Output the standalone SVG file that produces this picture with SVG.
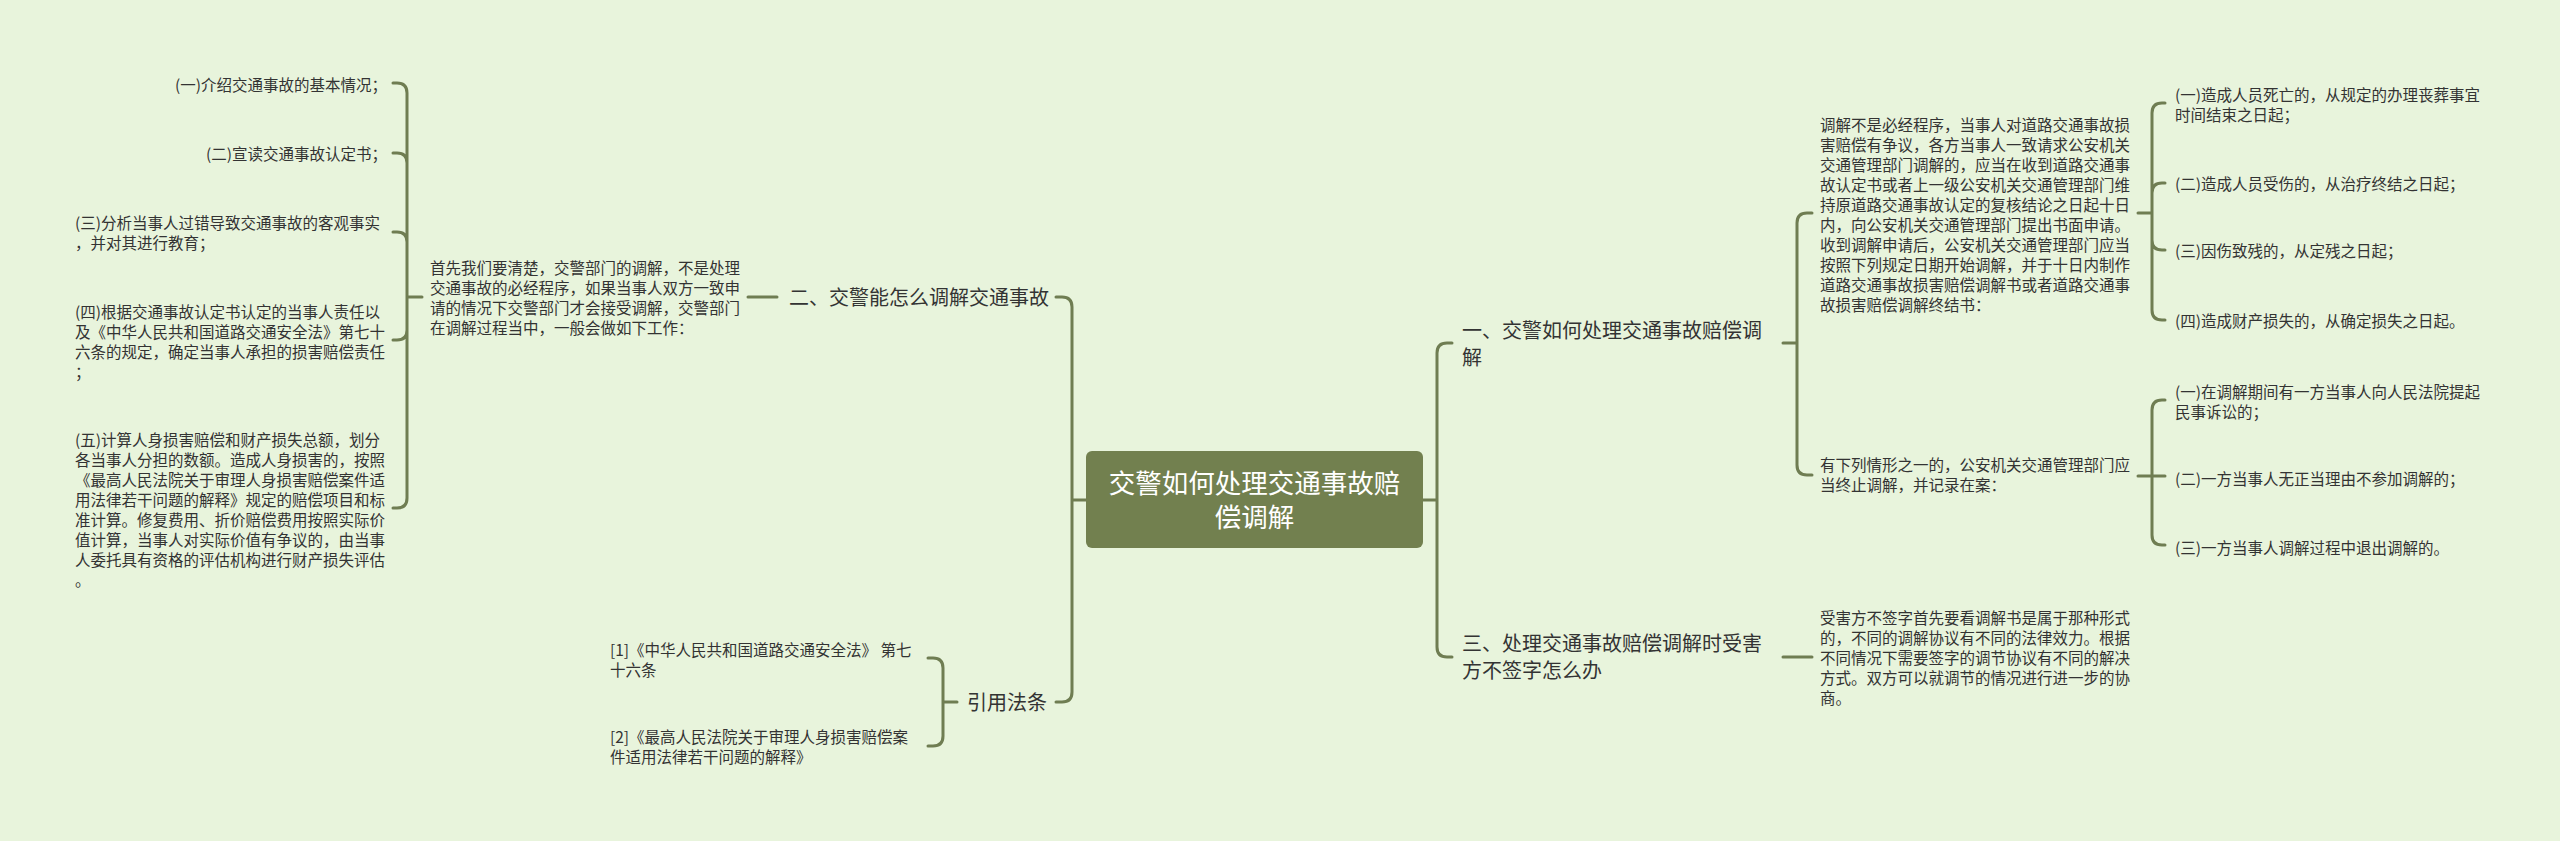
<svg xmlns="http://www.w3.org/2000/svg" width="2560" height="841" viewBox="0 0 2560 841">
<style>
text{font-family:"Noto Sans CJK SC","Noto Sans",sans-serif;fill:#333333}
.s{font-size:15.5px}
.m{font-size:20px}
.c{font-size:26.5px;fill:#ffffff;text-anchor:middle}
.e{text-anchor:end}
.ln{fill:none;stroke:#6f7d52;stroke-width:3;stroke-linecap:round;stroke-linejoin:round}
</style>
<rect width="2560" height="841" fill="#e8f4dc"/>
<g id="connectors" class="ln">
<path d="M1072 500 H1086 M1072 500 V307 Q1072 297 1062 297 H1056 M1072 500 V692 Q1072 702 1062 702 H1056"/>
<path d="M1423 500 H1437 M1437 500 V353 Q1437 343 1447 343 H1452 M1437 500 V647 Q1437 657 1447 657 H1452"/>
<path d="M748 297 H777"/>
<path d="M407 297 H422 M407 297 V93 Q407 83 397 83 H393 M407 297 V163 Q407 153 397 153 H393 M407 297 V242 Q407 232 397 232 H393 M407 297 V330 Q407 340 397 340 H393 M407 297 V498 Q407 508 397 508 H393"/>
<path d="M943 702 H957 M943 702 V668 Q943 658 933 658 H928 M943 702 V736 Q943 746 933 746 H928"/>
<path d="M1783 343 H1797 M1797 343 V223 Q1797 213 1807 213 H1812 M1797 343 V465 Q1797 475 1807 475 H1812"/>
<path d="M2138 213 H2152 M2152 213 V113 Q2152 103 2162 103 H2165 M2152 213 V193 Q2152 183 2162 183 H2165 M2152 213 V240 Q2152 250 2162 250 H2165 M2152 213 V310 Q2152 320 2162 320 H2165"/>
<path d="M2138 476 H2165 M2152 476 V410 Q2152 400 2162 400 H2165 M2152 476 V535 Q2152 545 2162 545 H2165"/>
<path d="M1783 657 H1812"/>
</g>
<g id="center">
<rect x="1086" y="451" width="337" height="97" rx="6" fill="#72804f"/>
<text class="c" x="1254.5" y="493">交警如何处理交通事故赔</text>
<text class="c" x="1254.5" y="527">偿调解</text>
</g>
<g id="n-er">
<text class="m" x="789" y="305">二、交警能怎么调解交通事故</text>
</g>
<g id="n-er-desc">
<text class="s" x="430" y="274">首先我们要清楚，交警部门的调解，不是处理</text>
<text class="s" x="430" y="294">交通事故的必经程序，如果当事人双方一致申</text>
<text class="s" x="430" y="314">请的情况下交警部门才会接受调解，交警部门</text>
<text class="s" x="430" y="334">在调解过程当中，一般会做如下工作：</text>
</g>
<g id="n-l1"><text class="s e" x="387" y="91">(一)介绍交通事故的基本情况；</text></g>
<g id="n-l2"><text class="s e" x="387" y="160">(二)宣读交通事故认定书；</text></g>
<g id="n-l3">
<text class="s" x="75" y="229">(三)分析当事人过错导致交通事故的客观事实</text>
<text class="s" x="75" y="249">，并对其进行教育；</text>
</g>
<g id="n-l4">
<text class="s" x="75" y="318">(四)根据交通事故认定书认定的当事人责任以</text>
<text class="s" x="75" y="338">及《中华人民共和国道路交通安全法》第七十</text>
<text class="s" x="75" y="358">六条的规定，确定当事人承担的损害赔偿责任</text>
<text class="s" x="75" y="378">；</text>
</g>
<g id="n-l5">
<text class="s" x="75" y="446">(五)计算人身损害赔偿和财产损失总额，划分</text>
<text class="s" x="75" y="466">各当事人分担的数额。造成人身损害的，按照</text>
<text class="s" x="75" y="486">《最高人民法院关于审理人身损害赔偿案件适</text>
<text class="s" x="75" y="506">用法律若干问题的解释》规定的赔偿项目和标</text>
<text class="s" x="75" y="526">准计算。修复费用、折价赔偿费用按照实际价</text>
<text class="s" x="75" y="546">值计算，当事人对实际价值有争议的，由当事</text>
<text class="s" x="75" y="566">人委托具有资格的评估机构进行财产损失评估</text>
<text class="s" x="75" y="586">。</text>
</g>
<g id="n-law"><text class="m" x="967" y="710">引用法条</text></g>
<g id="n-law1">
<text class="s" x="610" y="656">[1]《中华人民共和国道路交通安全法》 第七</text>
<text class="s" x="610" y="676">十六条</text>
</g>
<g id="n-law2">
<text class="s" x="610" y="743">[2]《最高人民法院关于审理人身损害赔偿案</text>
<text class="s" x="610" y="763">件适用法律若干问题的解释》</text>
</g>
<g id="n-yi">
<text class="m" x="1462" y="338">一、交警如何处理交通事故赔偿调</text>
<text class="m" x="1462" y="365">解</text>
</g>
<g id="n-yi-a">
<text class="s" x="1820" y="131">调解不是必经程序，当事人对道路交通事故损</text>
<text class="s" x="1820" y="151">害赔偿有争议，各方当事人一致请求公安机关</text>
<text class="s" x="1820" y="171">交通管理部门调解的，应当在收到道路交通事</text>
<text class="s" x="1820" y="191">故认定书或者上一级公安机关交通管理部门维</text>
<text class="s" x="1820" y="211">持原道路交通事故认定的复核结论之日起十日</text>
<text class="s" x="1820" y="231">内，向公安机关交通管理部门提出书面申请。</text>
<text class="s" x="1820" y="251">收到调解申请后，公安机关交通管理部门应当</text>
<text class="s" x="1820" y="271">按照下列规定日期开始调解，并于十日内制作</text>
<text class="s" x="1820" y="291">道路交通事故损害赔偿调解书或者道路交通事</text>
<text class="s" x="1820" y="311">故损害赔偿调解终结书：</text>
</g>
<g id="n-yi-a1">
<text class="s" x="2175" y="101">(一)造成人员死亡的，从规定的办理丧葬事宜</text>
<text class="s" x="2175" y="121">时间结束之日起；</text>
</g>
<g id="n-yi-a2"><text class="s" x="2175" y="190">(二)造成人员受伤的，从治疗终结之日起；</text></g>
<g id="n-yi-a3"><text class="s" x="2175" y="257">(三)因伤致残的，从定残之日起；</text></g>
<g id="n-yi-a4"><text class="s" x="2175" y="327">(四)造成财产损失的，从确定损失之日起。</text></g>
<g id="n-yi-b">
<text class="s" x="1820" y="471">有下列情形之一的，公安机关交通管理部门应</text>
<text class="s" x="1820" y="491">当终止调解，并记录在案：</text>
</g>
<g id="n-yi-b1">
<text class="s" x="2175" y="398">(一)在调解期间有一方当事人向人民法院提起</text>
<text class="s" x="2175" y="418">民事诉讼的；</text>
</g>
<g id="n-yi-b2"><text class="s" x="2175" y="485">(二)一方当事人无正当理由不参加调解的；</text></g>
<g id="n-yi-b3"><text class="s" x="2175" y="554">(三)一方当事人调解过程中退出调解的。</text></g>
<g id="n-san">
<text class="m" x="1462" y="651">三、处理交通事故赔偿调解时受害</text>
<text class="m" x="1462" y="678">方不签字怎么办</text>
</g>
<g id="n-san-a">
<text class="s" x="1820" y="624">受害方不签字首先要看调解书是属于那种形式</text>
<text class="s" x="1820" y="644">的，不同的调解协议有不同的法律效力。根据</text>
<text class="s" x="1820" y="664">不同情况下需要签字的调节协议有不同的解决</text>
<text class="s" x="1820" y="684">方式。双方可以就调节的情况进行进一步的协</text>
<text class="s" x="1820" y="704">商。</text>
</g>
</svg>
